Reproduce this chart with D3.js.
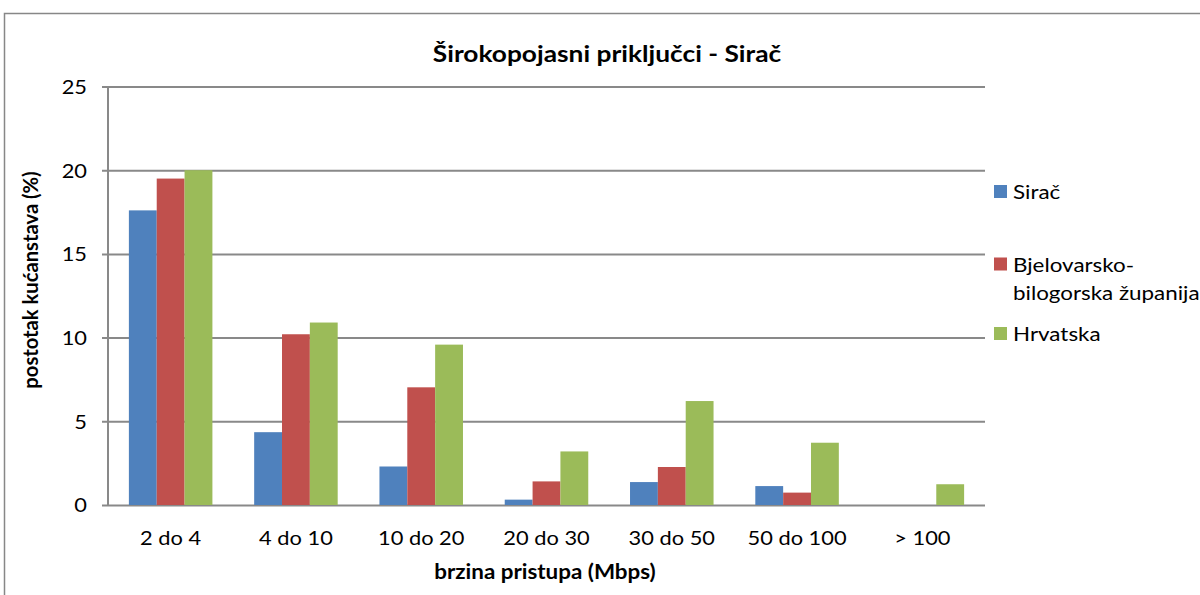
<!DOCTYPE html>
<html>
<head>
<meta charset="utf-8">
<script src="https://cdn.jsdelivr.net/npm/d3@7"></script>
<style>
  html, body { margin: 0; padding: 0; background: #fff; }
  svg { display: block; font-family: Lato, "Open Sans", sans-serif; }
</style>
</head>
<body>
<svg id="chart" width="1200" height="595"></svg>
<script>
// Broadband access by speed band, share of households (%)
const categories = ["2 do 4", "4 do 10", "10 do 20", "20 do 30", "30 do 50", "50 do 100", "> 100"];
const seriesNames = ["Sirač", "Bjelovarsko-bilogorska županija", "Hrvatska"];
const siracValues = [17.6, 4.35, 2.3, 0.32, 1.37, 1.13, 0];
const bbzValues = [19.5, 10.2, 7.03, 1.41, 2.27, 0.74, 0];
const hrvValues = [20.0, 10.9, 9.58, 3.2, 6.21, 3.72, 1.24];
const yTicks = [0, 5, 10, 15, 20, 25];
const colors = ["#4f81bd", "#c0504d", "#9bbb59"];

const seriesValues = [siracValues, bbzValues, hrvValues];
const SX = 1.12; // horizontal widening applied to horizontal labels
const svg = d3.select("#chart");

// outer chart frame
svg.append("rect")
  .attr("x", 4.5).attr("y", 13.5)
  .attr("width", 1300).attr("height", 700)
  .attr("fill", "none").attr("stroke", "#878787").attr("stroke-width", 1.5);

const plot = { left: 108, right: 985, top: 86.5, bottom: 505 };

const x0 = d3.scaleBand().domain(categories).range([plot.left, plot.right]).paddingInner(0).paddingOuter(0);
const groupW = x0.bandwidth();
const barW = groupW / (3 + 1.5);
const y = d3.scaleLinear().domain([0, 25]).range([plot.bottom, plot.top]);

// horizontal gridlines with short ticks
const yAxis = d3.axisLeft(y).tickValues(yTicks).tickSize(-(plot.right - plot.left)).tickFormat(d3.format("d"));
const gy = svg.append("g").attr("transform", `translate(${plot.left},0)`).call(yAxis);
gy.select(".domain").remove();
gy.selectAll(".tick line").attr("x1", -6).attr("stroke", "#898989").attr("stroke-width", 2);
gy.selectAll(".tick text")
  .attr("font-size", 19.5).attr("fill", "#000").attr("font-family", "Lato")
  .attr("x", -21 / SX).attr("dy", "0.35em")
  .attr("transform", `scale(${SX},1)`);

// bars
seriesValues.forEach((vals, s) => {
  svg.append("g").selectAll("rect")
    .data(vals.map((v, i) => ({ v, c: categories[i] })))
    .join("rect")
    .attr("x", d => x0(d.c) + 0.75 * barW + s * barW)
    .attr("y", d => y(d.v))
    .attr("width", barW)
    .attr("height", d => y(0) - y(d.v))
    .attr("fill", colors[s]);
});

// vertical axis line
svg.append("line")
  .attr("x1", plot.left).attr("x2", plot.left)
  .attr("y1", plot.top).attr("y2", plot.bottom)
  .attr("stroke", "#898989").attr("stroke-width", 2);

// category labels
const xAxis = d3.axisBottom(x0).tickSize(0);
const gx = svg.append("g").attr("transform", `translate(0,${plot.bottom})`).call(xAxis);
gx.select(".domain").remove();
gx.selectAll(".tick text")
  .attr("font-size", 19.5).attr("fill", "#000").attr("font-family", "Lato")
  .attr("y", 40).attr("dy", 0)
  .attr("transform", `scale(${SX},1)`);

// title
svg.append("text")
  .attr("transform", `translate(607,62) scale(${SX},1)`)
  .attr("text-anchor", "middle")
  .attr("font-size", 23.5).attr("font-weight", "bold")
  .text("Širokopojasni priključci - Sirač");

// axis titles
svg.append("text")
  .attr("transform", `translate(545,579) scale(${SX},1)`)
  .attr("text-anchor", "middle")
  .attr("font-size", 20).attr("font-weight", "bold")
  .text("brzina pristupa (Mbps)");

svg.append("text")
  .attr("transform", "translate(38,280) rotate(-90)")
  .attr("text-anchor", "middle")
  .attr("font-size", 20.2).attr("font-weight", "bold")
  .text("postotak kućanstava (%)");

// legend
const legendRows = [
  { lines: ["Sirač"], base: 199 },
  { lines: ["Bjelovarsko-", "bilogorska županija"], base: 271.5 },
  { lines: ["Hrvatska"], base: 341 }
];
const lg = svg.append("g");
legendRows.forEach((r, i) => {
  lg.append("rect")
    .attr("x", 994).attr("y", r.base - 14)
    .attr("width", 13).attr("height", 13)
    .attr("fill", colors[i]);
  const t = lg.append("text")
    .attr("transform", `translate(1013,${r.base}) scale(${SX},1)`)
    .attr("font-size", 20);
  r.lines.forEach((ln, k) => {
    t.append("tspan").attr("x", 0).attr("dy", k === 0 ? 0 : 28.5).text(ln);
  });
});
</script>
</body>
</html>
